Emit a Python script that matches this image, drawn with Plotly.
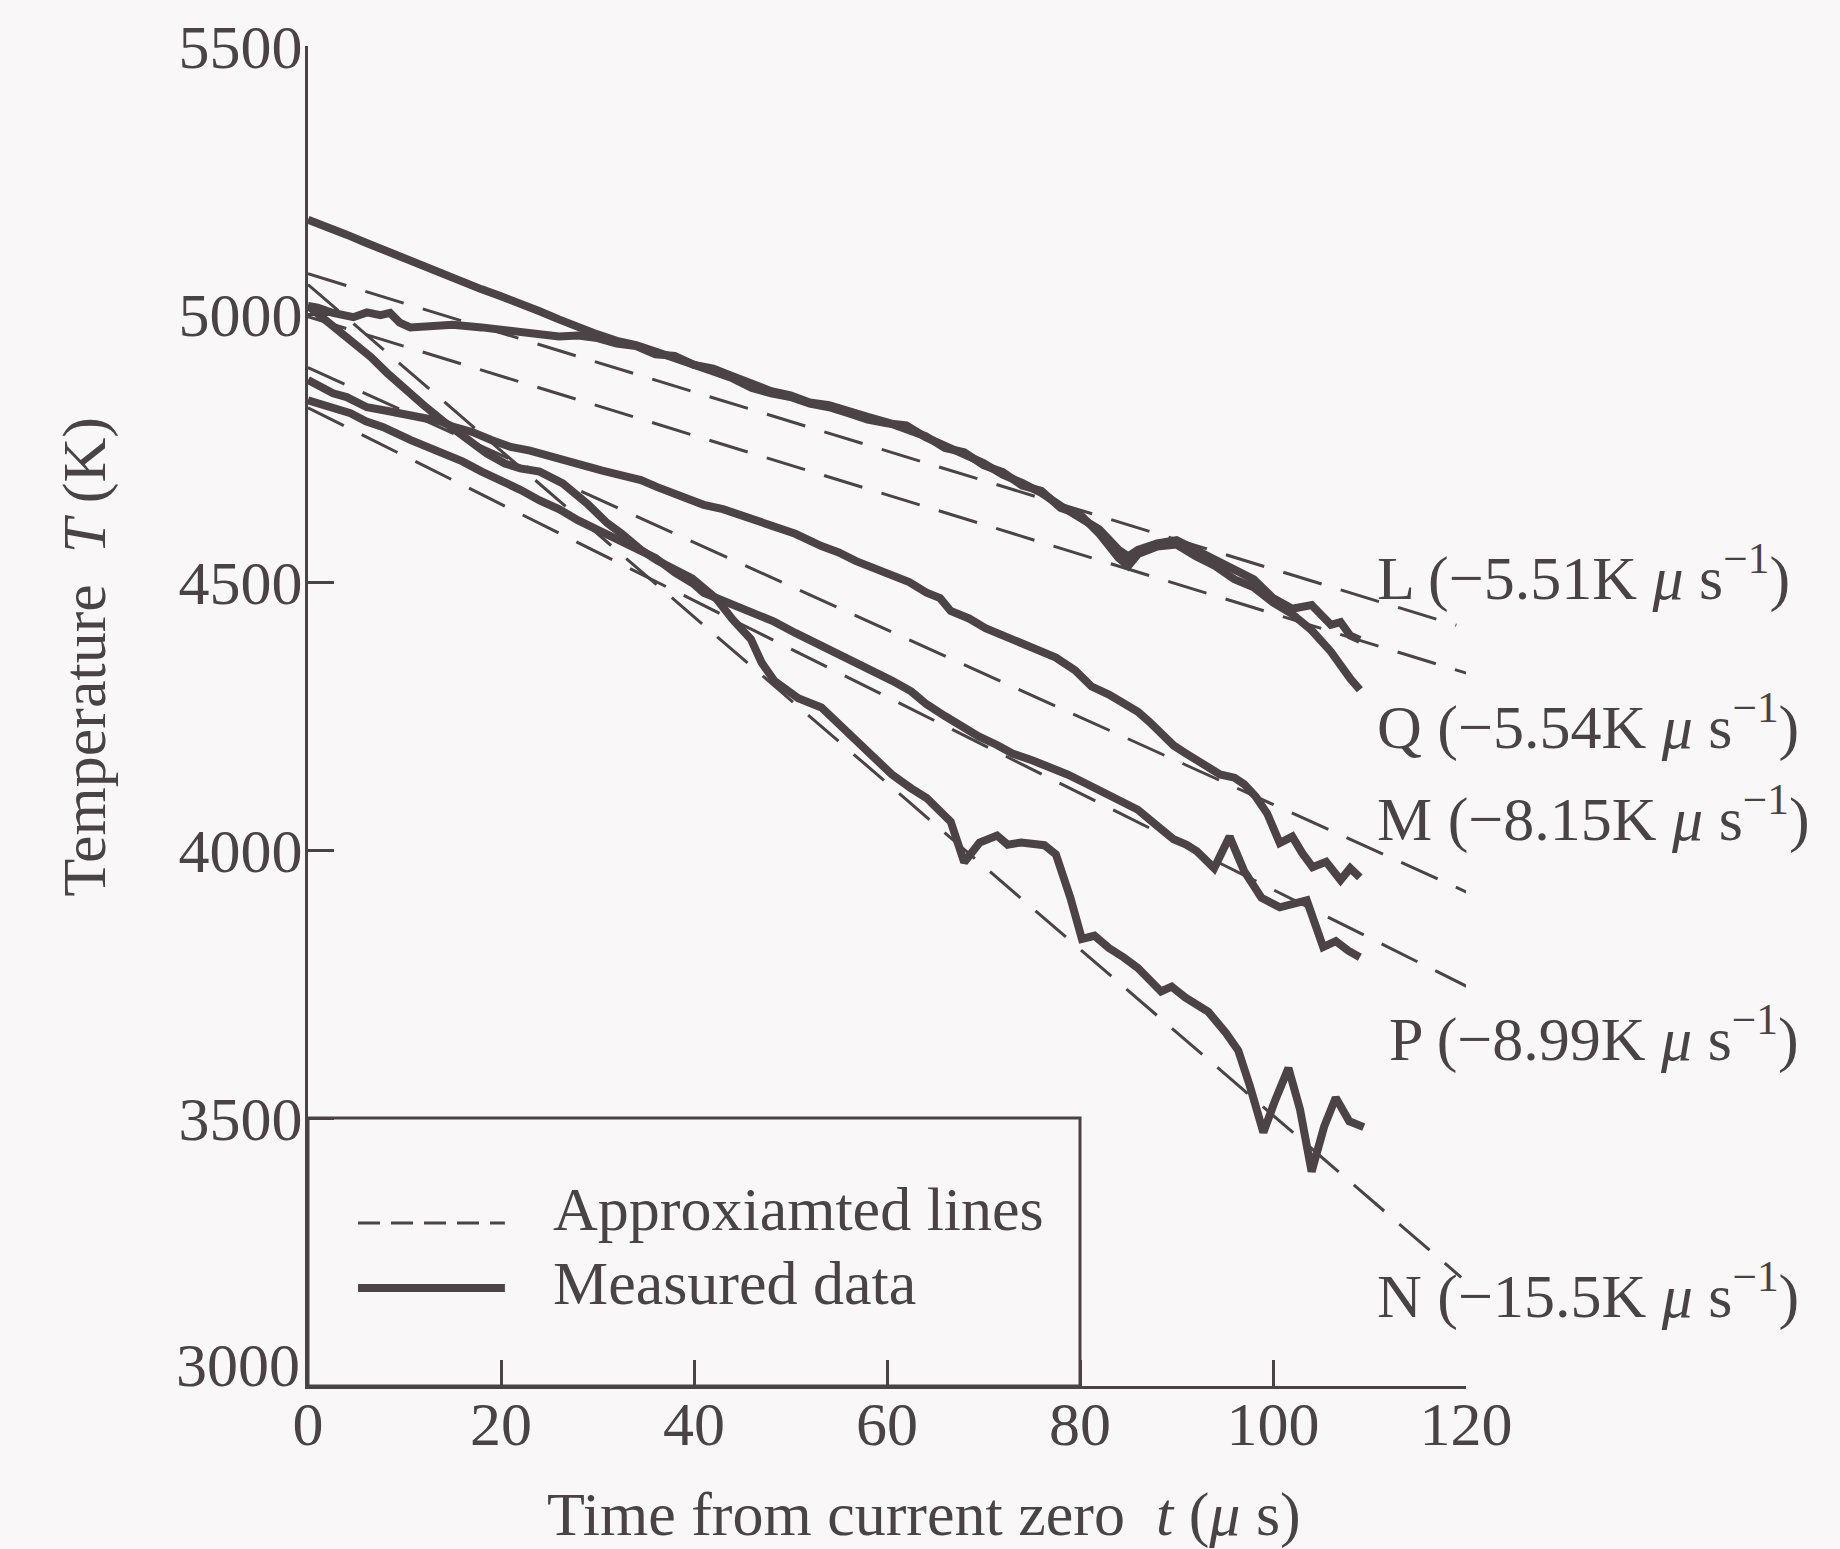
import plotly.graph_objects as go

# ---- measured temperature decay after current zero (t in microseconds, T in K) ----
L_t = [0, 2, 4, 6, 8, 10, 12, 14, 16, 18, 20, 22, 24, 26, 28, 30, 32, 34, 36, 38, 40,
       42, 44, 46, 48, 50, 52, 54, 56, 58, 60, 62, 64, 66, 68, 70, 72, 74, 76, 78, 80,
       82, 84, 85, 86, 88, 90, 92, 94, 96, 98, 100, 102, 104, 106, 107, 108, 109]
L_T = [5176, 5160, 5148, 5133, 5118, 5104, 5090, 5074, 5060, 5046, 5033, 5020, 5005,
       4990, 4975, 4962, 4950, 4942, 4930, 4918, 4908, 4893, 4880, 4862, 4852, 4845,
       4833, 4826, 4815, 4803, 4796, 4792, 4770, 4752, 4738, 4722, 4700, 4685, 4666,
       4642, 4622, 4598, 4560, 4548, 4560, 4572, 4578, 4560, 4540, 4522, 4505, 4470,
       4450, 4457, 4420, 4425, 4400, 4392]

Q_t = [0, 1, 2.6, 4.7, 6.1, 7.5, 8.5, 9.5, 10.6, 13, 15, 18, 20, 23, 26, 28, 30, 32, 34,
       36, 38, 40, 42, 44, 46, 48, 50, 52, 54, 56, 58, 60, 62, 64, 66, 68, 70, 72, 74,
       76, 78, 80, 82, 84, 85, 86, 88, 90, 92, 94, 96, 98, 100, 102, 104, 106, 108, 109]
Q_T = [5015, 5012, 5002, 4994, 5003, 4998, 5002, 4984, 4975, 4977, 4980, 4975, 4970,
       4964, 4958, 4960, 4955, 4945, 4940, 4925, 4922, 4905, 4898, 4884, 4870, 4856,
       4848, 4835, 4830, 4818, 4808, 4798, 4785, 4772, 4750, 4742, 4718, 4705, 4680,
       4670, 4638, 4626, 4590, 4545, 4530, 4552, 4566, 4570, 4548, 4530, 4505, 4490,
       4462, 4440, 4410, 4370, 4320, 4299]

M_t = [0, 1.5, 2.6, 4, 6.1, 8, 9.5, 11, 13.7, 15, 17, 19, 21, 23, 25, 27, 28.9, 30.5,
       32.5, 34.5, 36.2, 38.5, 41, 43, 44.7, 46.5, 48.3, 50.5, 53.2, 55, 56.8, 58.5,
       60.5, 62.3, 64.1, 65.5, 66.6, 68.5, 70.2, 72, 73.9, 75.5, 77.5, 79.5, 81.2, 83,
       84.8, 86, 87.2, 88.5, 89.7, 91, 92.1, 93.5, 94.5, 96, 97, 98.2, 99.4, 100.7, 102,
       103, 104.1, 105.5, 107, 108, 109]
M_T = [4877, 4862, 4852, 4845, 4826, 4820, 4815, 4808, 4800, 4790, 4780, 4765, 4752,
       4745, 4735, 4722, 4714, 4708, 4699, 4690, 4677, 4662, 4644, 4636, 4626, 4615,
       4605, 4590, 4567, 4555, 4539, 4528, 4513, 4500, 4480, 4470, 4446, 4432, 4414,
       4400, 4385, 4372, 4359, 4335, 4305, 4290, 4272, 4258, 4239, 4215, 4195, 4180,
       4167, 4150, 4141, 4135, 4123, 4100, 4068, 4013, 4025, 3995, 3968, 3978, 3944,
       3966, 3949]

P_t = [0, 2, 4.4, 6, 7.8, 10.6, 12.5, 14.5, 16, 18, 20, 22, 24, 26, 28, 30, 32, 34, 36,
       38, 40, 41, 43, 44.7, 46.5, 48.3, 50.5, 53.2, 55, 56.8, 58.5, 60.5, 62.5, 64.1,
       66, 67.8, 69.5, 71.4, 73, 75.1, 77, 78.7, 80.5, 82.3, 84, 86, 88, 89.7, 91, 92.1,
       93.9, 95.5, 97, 98.8, 100.7, 102, 103.5, 105.2, 106.5, 107.8, 109]
P_T = [4839, 4828, 4815, 4800, 4789, 4765, 4750, 4738, 4725, 4706, 4690, 4672, 4652,
       4636, 4615, 4598, 4582, 4562, 4545, 4518, 4496, 4480, 4465, 4452, 4440, 4426,
       4405, 4382, 4366, 4349, 4335, 4316, 4296, 4272, 4250, 4229, 4212, 4196, 4180,
       4167, 4155, 4141, 4125, 4108, 4092, 4075, 4045, 4020, 4010, 3998, 3966, 4025,
       3961, 3911, 3893, 3900, 3906, 3819, 3830, 3812, 3800]

N_t = [0, 2.1, 4.6, 6.5, 8.2, 10, 11.9, 14, 16.7, 18.5, 20.4, 22, 24, 26.4, 29, 31,
       32.5, 34.5, 36.2, 38, 39.8, 42.3, 44, 45.9, 47, 48.3, 50.8, 53.2, 55.6, 58.1,
       60.5, 62.5, 64.1, 66.6, 68, 69.6, 71.4, 72.5, 73.9, 76.3, 77.5, 79, 80.2, 81.5,
       83, 84.5, 86, 88.4, 89.5, 90.9, 93.3, 95.1, 96.4, 97.6, 99, 100.2, 101.6, 102.8,
       104, 105.3, 106.5, 107.9, 109.4]
N_T = [5015, 4984, 4951, 4920, 4890, 4860, 4831, 4800, 4765, 4740, 4721, 4712, 4706,
       4684, 4645, 4610, 4590, 4560, 4540, 4522, 4507, 4469, 4430, 4393, 4350, 4316,
       4283, 4266, 4224, 4185, 4141, 4115, 4097, 4053, 3977, 4014, 4027, 4010, 4014,
       4009, 3992, 3911, 3834, 3840, 3817, 3800, 3780, 3736, 3745, 3725, 3698, 3659,
       3626, 3560, 3473, 3532, 3593, 3516, 3400, 3484, 3538, 3494, 3483]

# ---- linear approximations: cooling rate (K/us) and value at current zero ----
series_names = ["L", "Q", "M", "P", "N"]
rate_text = ["\u22125.51", "\u22125.54", "\u22128.15", "\u22128.99", "\u221215.5"]
fit_T0 = [5075, 4995, 4900, 4825, 5055]
fit_t_end = [119, 120.5, 120.5, 120.5, 119.5]

# where each rate label sits (data coordinates of its left edge)
label_t = [110.6, 110.6, 110.6, 111.8, 110.6]
label_T = [4516, 4238, 4066, 3656, 3176]

x_ticks = [0, 20, 40, 60, 80, 100, 120]
y_ticks = [3000, 3500, 4000, 4500, 5000, 5500]

measured = {
    "L": (L_t, L_T), "Q": (Q_t, Q_T), "M": (M_t, M_T),
    "P": (P_t, P_T), "N": (N_t, N_T),
}

INK = "#4a4346"
LINE = "#4b4346"
BG = "#f9f7f7"
FONT = "Liberation Serif, Times New Roman, serif"
FS = 62

fig = go.Figure()

# dashed fitted lines
for name, rt, t0v, tend in zip(series_names, rate_text, fit_T0, fit_t_end):
    rate = float(rt.replace("\u2212", "-"))
    fig.add_trace(go.Scatter(
        x=[0, tend], y=[t0v, t0v + rate * tend], mode="lines",
        line=dict(color=LINE, width=3, dash="40px,20px"),
        showlegend=False, hoverinfo="skip", name=name + " fit"))

# measured traces
for name in series_names:
    tt, TT = measured[name]
    fig.add_trace(go.Scatter(
        x=tt, y=TT, mode="lines",
        line=dict(color=LINE, width=8),
        showlegend=False, name=name))

# rate labels on the right
annotations = []
for name, rt, lx, ly in zip(series_names, rate_text, label_t, label_T):
    annotations.append(dict(
        x=lx, y=ly, xref="x", yref="y", xanchor="left", yanchor="middle",
        text=f"{name} ({rt}K\u00a0<i>\u03bc</i>\u00a0s<sup>\u22121</sup>)",
        showarrow=False, font=dict(family=FONT, size=FS, color=INK)))

# the lowest y label sits a little above its tick, clear of the x labels
annotations.append(dict(
    x=0, y=y_ticks[0], xref="paper", yref="y", xanchor="right", yanchor="middle",
    xshift=-6, yshift=21, text=str(y_ticks[0]), showarrow=False,
    font=dict(family=FONT, size=FS, color=INK)))

# axis titles
annotations.append(dict(
    x=0.532, y=-0.096, xref="paper", yref="paper", xanchor="center", yanchor="middle",
    text="Time from current zero\u00a0\u00a0<i>t</i>\u00a0(<i>\u03bc</i>\u00a0s)",
    showarrow=False, font=dict(family=FONT, size=FS, color=INK)))
annotations.append(dict(
    x=-0.193, y=0.544, xref="paper", yref="paper", xanchor="center", yanchor="middle",
    text="Temperature\u00a0\u00a0<i>T</i>\u00a0(K)", textangle=-90,
    showarrow=False, font=dict(family=FONT, size=FS, color=INK)))

# key box entries: label, dash, width, sample line height, text height (paper units)
legend_entries = [("Approxiamted lines", "22px,11px", 3, 0.1216, 0.1320),
                  ("Measured data", "solid", 8, 0.0731, 0.0770)]
shapes = []
for text, dash, w, yy, ty in legend_entries:
    shapes.append(dict(type="line", xref="paper", yref="paper",
                       x0=0.0432, x1=0.170, y0=yy, y1=yy,
                       line=dict(color=LINE, width=w, dash=dash)))
    annotations.append(dict(
        x=0.2098, y=ty, xref="paper", yref="paper", xanchor="left",
        yanchor="middle", text=text, showarrow=False,
        font=dict(family=FONT, size=FS, color=INK)))

# frame of the key, spanning t = 0..80 and T = 3000..3500
shapes.append(dict(type="rect", xref="x", yref="y", x0=0, x1=80, y0=3000, y1=3500,
                   line=dict(color=INK, width=3), fillcolor="rgba(0,0,0,0)"))

axis_common = dict(
    showgrid=False, zeroline=False, showline=True, linecolor=INK, linewidth=3,
    ticks="inside", ticklen=26, tickwidth=3, tickcolor=INK,
    tickfont=dict(family=FONT, size=FS, color=INK),
)

fig.update_layout(
    width=1840, height=1549,
    margin=dict(l=308, r=374, t=46, b=163),
    paper_bgcolor=BG, plot_bgcolor=BG,
    xaxis=dict(range=[0, 120], tickvals=x_ticks, ticktext=[str(v) for v in x_ticks],
               ticklabelstandoff=-18, **axis_common),
    yaxis=dict(range=[3000, 5500], tickvals=y_ticks,
               ticktext=[""] + [str(v) for v in y_ticks[1:]],
               ticklabelstandoff=-10, **axis_common),
    annotations=annotations,
    shapes=shapes,
    showlegend=False,
)

fig.write_html("out.html")
